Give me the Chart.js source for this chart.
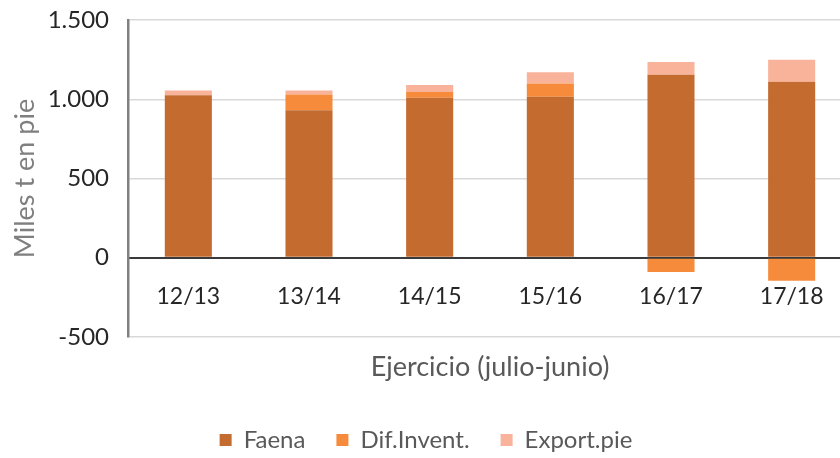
<!DOCTYPE html>
<html>
<head>
<meta charset="utf-8">
<script src="https://cdn.jsdelivr.net/npm/chart.js@4.4.1/dist/chart.umd.min.js"></script>
<style>
  body { margin: 0; overflow: hidden; background: #fff; }
  #wrap { width: 856px; height: 458px; position: relative; }
</style>
</head>
<body>
<div id="wrap"><canvas id="chart"></canvas></div>
<script>
// data (miles t en pie)
const categories = ['12/13', '13/14', '14/15', '15/16', '16/17', '17/18'];
const faena = [1025, 930, 1010, 1015, 1155, 1110];
const difInvent = [0, 100, 35, 85, -90, -145];
const exportPie = [30, 25, 45, 70, 80, 140];
const yMin = -500;
const yMax = 1500;
const yStep = 500;

const FONT = 'Lato, "Open Sans", sans-serif';

const data = {
    labels: categories,
    datasets: [
        { label: 'Faena', data: faena, backgroundColor: '#C46B30' },
        { label: 'Dif.Invent.', data: difInvent, backgroundColor: '#F68B3C' },
        { label: 'Export.pie', data: exportPie, backgroundColor: '#F9B39A' }
    ]
};

const config = {
    type: 'bar',
    data: data,
    options: {
        responsive: true,
        maintainAspectRatio: false,
        animation: false,
        datasets: {
            bar: { categoryPercentage: 1, barPercentage: 0.39 }
        },
        layout: {
            padding: { top: 20, right: 4, bottom: -4, left: 0 }
        },
        plugins: {
            tooltip: { enabled: false },
            legend: {
                position: 'bottom',
                // empty title only used to push the legend items down
                title: {
                    display: true,
                    text: ' ',
                    font: { size: 10 },
                    padding: { top: 48, bottom: 0 }
                },
                labels: {
                    font: { family: FONT, size: 24 },
                    color: '#595959',
                    boxWidth: 12,
                    boxHeight: 12,
                    padding: 31
                }
            }
        },
        scales: {
            x: {
                stacked: true,
                position: { y: 0 },
                grid: { display: false, drawTicks: false },
                border: { display: true, color: '#3a3a3a', width: 2 },
                ticks: {
                    font: { family: FONT, size: 23 },
                    color: '#262626',
                    padding: 25
                },
                title: {
                    display: true,
                    text: 'Ejercicio (julio-junio)',
                    font: { family: FONT, size: 27 },
                    color: '#595959',
                    padding: { top: 16, bottom: 0 }
                }
            },
            y: {
                stacked: true,
                min: yMin,
                max: yMax,
                afterFit: (scale) => {
                    scale.width = 128;
                    scale.paddingTop = 0;
                    scale.paddingBottom = 0;
                },
                grid: {
                    drawTicks: false,
                    color: (ctx) => ctx.tick && ctx.tick.value === 0 ? '#3a3a3a' : '#d9d9d9',
                    lineWidth: (ctx) => ctx.tick && ctx.tick.value === 0 ? 2 : 1.5
                },
                border: { display: true, color: '#808080', width: 2.5 },
                ticks: {
                    stepSize: yStep,
                    font: { family: FONT, size: 24 },
                    color: '#262626',
                    padding: 19,
                    callback: (v) => v.toLocaleString('de-DE')
                },
                title: {
                    display: true,
                    text: 'Miles t en pie',
                    font: { family: FONT, size: 27 },
                    color: '#7f7f7f',
                    padding: { top: 9, bottom: 0 }
                }
            }
        }
    }
};

const chart = new Chart(document.getElementById('chart'), config);
</script>
</body>
</html>
